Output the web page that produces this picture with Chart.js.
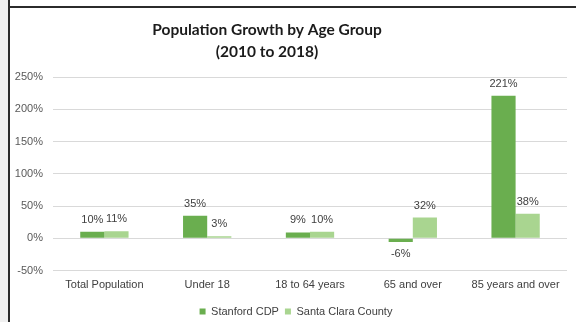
<!DOCTYPE html>
<html>
<head>
<meta charset="utf-8">
<script src="https://cdn.jsdelivr.net/npm/chart.js@4.4.1/dist/chart.umd.min.js"></script>
<style>
  html, body { margin: 0; padding: 0; width: 576px; height: 322px; overflow: hidden; background: #fff; }
  #wrap { position: relative; width: 576px; height: 322px; overflow: hidden; }
  #strip { position: absolute; left: 0; top: 0; width: 8px; height: 322px; background: #f0f0f0; }
  #vline { position: absolute; left: 8px; top: 0; width: 2px; height: 322px; background: #2b2b2b; }
  #hline { position: absolute; left: 10px; top: 6px; width: 566px; height: 2px; background: #2b2b2b; }
  canvas { position: absolute; left: 0; top: 0; }
</style>
</head>
<body>
<div id="wrap">
  <div id="strip"></div>
  <div id="vline"></div>
  <div id="hline"></div>
  <canvas id="chart" width="576" height="327"></canvas>
</div>
<script>
// Age groups and percentage growth 2010 -> 2018
const categories = ['Total Population', 'Under 18', '18 to 64 years', '65 and over', '85 years and over'];
const stanfordCDP = [10, 35, 9, -6, 221];
const santaClaraCounty = [11, 3, 10, 32, 38];
const seriesNames = ['Stanford CDP', 'Santa Clara County'];
const yTicks = [-50, 0, 50, 100, 150, 200, 250];
const titleLines = ['Population Growth by Age Group', '(2010 to 2018)'];

const FONT = "'Liberation Sans', Arial, sans-serif";
const TITLE_FONT = "Lato, 'Liberation Sans', sans-serif";

// Title drawn in the header band above the plot
const titlePlugin = {
  id: 'headerTitle',
  afterDraw(chart) {
    const ctx = chart.ctx;
    ctx.save();
    ctx.fillStyle = '#1b1b1b';
    ctx.font = "bold 15.5px " + TITLE_FONT;
    ctx.textAlign = 'center';
    ctx.textBaseline = 'middle';
    ctx.fillText(titleLines[0], 267, 30);
    ctx.fillText(titleLines[1], 267, 52);
    ctx.restore();
  }
};

// Value labels above positive bars, below negative ones
const valueLabels = {
  id: 'valueLabels',
  afterDatasetsDraw(chart) {
    const ctx = chart.ctx;
    ctx.save();
    ctx.font = "11px " + FONT;
    ctx.fillStyle = '#404040';
    ctx.textAlign = 'center';
    ctx.textBaseline = 'middle';
    chart.data.datasets.forEach((ds, i) => {
      const meta = chart.getDatasetMeta(i);
      meta.data.forEach((bar, j) => {
        const v = ds.data[j];
        const y = v >= 0 ? bar.y - 12 : bar.y + 12;
        ctx.fillText(v + '%', bar.x, y);
      });
    });
    ctx.restore();
  }
};

// Nudge the legend so it sits centred under the plot body
const legendShift = {
  id: 'legendShift',
  afterLayout(chart) {
    if (chart.legend) {
      chart.legend.left += 8;
      chart.legend.right += 8;
    }
  }
};

new Chart(document.getElementById('chart'), {
  type: 'bar',
  data: {
    labels: categories,
    datasets: [
      { label: seriesNames[0], data: stanfordCDP, backgroundColor: '#6aae4f', borderWidth: 0 },
      { label: seriesNames[1], data: santaClaraCounty, backgroundColor: '#a9d590', borderWidth: 0 }
    ]
  },
  options: {
    responsive: false,
    animation: false,
    devicePixelRatio: 1,
    datasets: { bar: { categoryPercentage: 0.47, barPercentage: 1.0 } },
    layout: { padding: { left: 9, right: 9, top: 77, bottom: 0 } },
    plugins: {
      title: { display: false },
      tooltip: { enabled: false },
      legend: {
        display: true,
        position: 'bottom',
        labels: {
          font: { family: FONT, size: 11 },
          color: '#404040',
          boxWidth: 6,
          boxHeight: 6,
          padding: 6
        }
      }
    },
    scales: {
      x: {
        grid: { display: false, drawTicks: false },
        border: { display: false },
        ticks: { font: { family: FONT, size: 11 }, color: '#404040', padding: 8, maxRotation: 0, autoSkip: false },
        afterFit(scale) { scale.height = 29.5; }
      },
      y: {
        min: yTicks[0],
        max: yTicks[yTicks.length - 1],
        afterBuildTicks(scale) { scale.ticks = yTicks.map(v => ({ value: v })); },
        grid: { color: '#d9d9d9', lineWidth: 1, drawTicks: false },
        border: { display: false },
        ticks: {
          font: { family: FONT, size: 11 },
          color: '#595959',
          padding: 10,
          callback: v => v + '%'
        },
        afterFit(scale) { scale.width = 44; }
      }
    }
  },
  plugins: [titlePlugin, valueLabels, legendShift]
});
</script>
</body>
</html>
